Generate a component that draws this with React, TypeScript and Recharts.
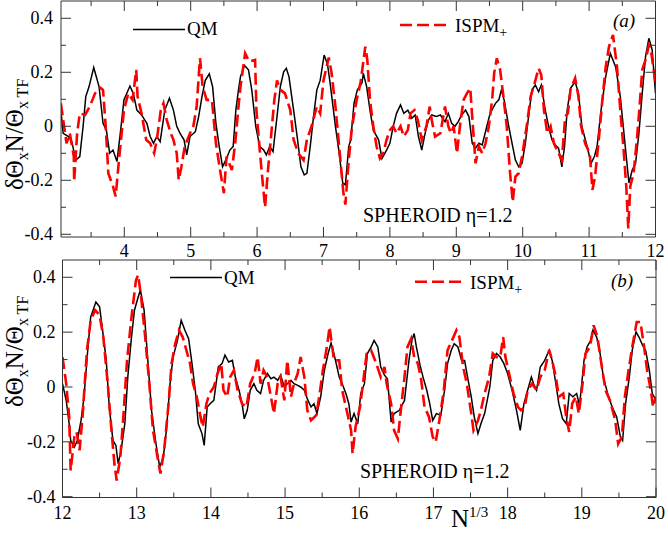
import React from 'react';
import { LineChart, Line, XAxis, YAxis } from 'recharts';

const AXIS = '#333';
const FONT = '"Liberation Serif", "Times New Roman", serif';
const RED = '#ff0000';

type Pt = [number, number];

// tick values
const xTicksA = [3.5, 4, 4.5, 5, 5.5, 6, 6.5, 7, 7.5, 8, 8.5, 9, 9.5, 10, 10.5, 11, 11.5, 12];
const xTicksB = [12, 12.5, 13, 13.5, 14, 14.5, 15, 15.5, 16, 16.5, 17, 17.5, 18, 18.5, 19, 19.5, 20];
const yTicks = [-0.4, -0.3, -0.2, -0.1, 0, 0.1, 0.2, 0.3, 0.4];

// panel (a): QM
const qmA: Pt[] = [
  [3.045, 0.06], [3.08, -0.026], [3.16, -0.038], [3.21, -0.057], [3.27, -0.125], [3.33, -0.112], [3.38, 0], [3.42, 0.11],
  [3.47, 0.147], [3.54, 0.218], [3.62, 0.147], [3.68, 0.011], [3.73, -0.014], [3.78, -0.1], [3.83, -0.088], [3.89, -0.13],
  [3.94, -0.026], [3.995, 0.098], [4.085, 0.149], [4.135, 0.122], [4.19, 0.06], [4.26, 0.042], [4.34, 0.011], [4.39, -0.038],
  [4.44, -0.063], [4.49, -0.038], [4.54, -0.057], [4.61, 0.06], [4.68, 0.104], [4.74, 0.06], [4.79, 0], [4.84, -0.026],
  [4.9, -0.05], [4.94, -0.106], [4.99, -0.038], [5.07, -0.02], [5.12, 0.036], [5.17, 0.11], [5.22, 0.17], [5.28, 0.194],
  [5.33, 0.147], [5.38, 0.011], [5.43, -0.075], [5.48, -0.15], [5.54, -0.119], [5.59, -0.088], [5.64, -0.075], [5.68, 0.06],
  [5.72, 0.135], [5.75, 0.184], [5.81, 0.225], [5.87, 0.209], [5.92, 0.135], [5.98, 0], [6.04, -0.075], [6.1, -0.088],
  [6.14, -0.106], [6.19, -0.075], [6.24, -0.094], [6.3, 0.036], [6.35, 0.147], [6.4, 0.202], [6.44, 0.215], [6.48, 0.184],
  [6.55, 0.06], [6.61, -0.05], [6.66, -0.15], [6.71, -0.18], [6.75, -0.174], [6.8, -0.075], [6.85, 0.036], [6.9, 0.135],
  [6.95, 0.17], [7.01, 0.264], [7.06, 0.23], [7.1, 0.16], [7.18, 0], [7.23, -0.088], [7.29, -0.21], [7.33, -0.217],
  [7.38, -0.075], [7.41, -0.05], [7.46, 0.085], [7.51, 0.135], [7.58, 0.16], [7.6, 0.196], [7.65, 0.147], [7.7, 0.06],
  [7.75, -0.014], [7.83, -0.05], [7.88, -0.119], [7.95, -0.088], [8, -0.063], [8.05, 0], [8.1, 0.048], [8.16, 0.079],
  [8.21, 0.048], [8.27, 0.06], [8.33, 0.03], [8.38, 0.042], [8.43, -0.038], [8.48, -0.088], [8.53, -0.026], [8.58, 0.023],
  [8.63, 0.042], [8.7, 0.036], [8.76, 0.042], [8.83, 0.017], [8.88, 0.048], [8.93, 0.011], [8.98, 0], [9.03, 0.017],
  [9.08, 0.042], [9.14, 0.06], [9.19, 0.036], [9.24, -0.063], [9.29, -0.081], [9.34, -0.063], [9.39, -0.069], [9.46, 0],
  [9.51, 0.048], [9.59, 0.085], [9.64, 0.098], [9.68, 0.135], [9.72, 0.098], [9.79, 0], [9.84, -0.063], [9.89, -0.125],
  [9.94, -0.15], [9.99, -0.137], [10.04, -0.063], [10.1, 0.06], [10.14, 0.135], [10.19, 0.153], [10.24, 0.128], [10.28, 0.153],
  [10.34, 0.06], [10.39, 0], [10.44, -0.05], [10.49, -0.069], [10.54, -0.081], [10.59, -0.15], [10.63, -0.075], [10.67, 0.06],
  [10.72, 0.141], [10.79, 0.165], [10.84, 0.122], [10.89, 0], [10.97, -0.075], [11.03, -0.137], [11.08, -0.112], [11.12, -0.075],
  [11.18, 0.06], [11.25, 0.184], [11.32, 0.27], [11.4, 0.22], [11.47, 0.11], [11.55, -0.088], [11.6, -0.21], [11.65, -0.162],
  [11.7, -0.137], [11.75, -0.026], [11.8, 0.122], [11.85, 0.258], [11.9, 0.326], [11.95, 0.283], [12, 0.122],
];

// panel (a): ISPM+
const ispmA: Pt[] = [
  [3.045, 0.085], [3.13, -0.063], [3.18, -0.026], [3.24, -0.112], [3.245, -0.205], [3.29, -0.026], [3.33, 0.048], [3.41, 0.042],
  [3.48, 0.073], [3.56, 0.122], [3.63, 0.144], [3.68, 0.135], [3.72, 0], [3.76, -0.174], [3.83, -0.223], [3.87, -0.26],
  [3.92, -0.125], [3.96, -0.026], [3.995, 0.06], [4.06, 0.122], [4.125, 0.098], [4.18, 0.209], [4.2, 0.11], [4.26, 0.048],
  [4.33, -0.05], [4.39, -0.063], [4.45, -0.1], [4.49, -0.05], [4.55, 0.06], [4.59, 0.085], [4.64, 0.023], [4.7, -0.026],
  [4.74, -0.05], [4.79, -0.1], [4.82, -0.199], [4.86, -0.15], [4.91, -0.075], [4.99, -0.026], [5.04, 0], [5.09, 0.073],
  [5.14, 0.252], [5.18, 0.147], [5.24, 0.098], [5.32, 0.098], [5.38, -0.063], [5.45, -0.174], [5.5, -0.248], [5.54, -0.112],
  [5.62, -0.162], [5.67, -0.063], [5.72, 0.073], [5.75, 0.147], [5.82, 0.27], [5.88, 0.24], [5.97, 0.246], [5.99, 0.06],
  [6.04, -0.088], [6.09, -0.223], [6.12, -0.3], [6.16, -0.174], [6.21, -0.038], [6.26, 0.098], [6.3, 0.17], [6.35, 0.135],
  [6.42, 0.122], [6.5, 0.06], [6.55, -0.05], [6.62, -0.1], [6.7, -0.125], [6.75, -0.05], [6.82, 0], [6.9, 0.073],
  [6.95, 0.048], [7, 0.17], [7.08, 0.255], [7.12, 0.2], [7.18, 0.073], [7.25, -0.112], [7.3, -0.248], [7.33, -0.29],
  [7.38, -0.125], [7.43, 0], [7.5, 0.098], [7.56, 0.165], [7.63, 0.295], [7.66, 0.246], [7.7, 0.098], [7.75, 0],
  [7.8, -0.075], [7.85, -0.119], [7.9, -0.1], [7.95, -0.05], [8, -0.014], [8.05, 0], [8.1, -0.026], [8.16, 0],
  [8.21, -0.038], [8.27, -0.014], [8.31, 0.048], [8.37, 0.06], [8.42, 0.023], [8.48, -0.05], [8.55, 0], [8.6, 0.073],
  [8.63, 0.023], [8.68, -0.038], [8.76, -0.026], [8.83, 0.073], [8.88, 0], [8.92, -0.026], [8.96, 0], [9.01, -0.1],
  [9.06, 0.011], [9.11, 0.098], [9.16, 0.122], [9.21, 0.141], [9.25, 0], [9.29, -0.137], [9.34, -0.075], [9.39, -0.1],
  [9.44, -0.063], [9.49, 0], [9.54, 0.098], [9.57, 0.196], [9.61, 0.252], [9.66, 0.209], [9.71, 0.11], [9.76, 0],
  [9.81, -0.174], [9.85, -0.28], [9.89, -0.186], [9.94, -0.174], [9.99, -0.112], [10.06, 0], [10.12, 0.11], [10.18, 0.16],
  [10.24, 0.215], [10.28, 0.19], [10.32, 0.06], [10.37, -0.026], [10.42, 0], [10.47, -0.063], [10.54, -0.1], [10.59, -0.125],
  [10.64, 0.036], [10.68, 0.048], [10.72, 0.135], [10.79, 0.178], [10.84, 0.11], [10.88, 0], [10.94, -0.063], [11.01, -0.1],
  [11.05, -0.236], [11.09, -0.186], [11.15, -0.038], [11.2, 0.098], [11.25, 0.22], [11.3, 0.295], [11.36, 0.338], [11.42, 0.22],
  [11.47, 0.06], [11.52, -0.088], [11.56, -0.223], [11.59, -0.378], [11.62, -0.223], [11.67, -0.174], [11.72, -0.05], [11.76, 0.073],
  [11.8, 0.209], [11.85, 0.246], [11.9, 0.3], [11.93, 0.283], [12, 0.16],
];

// panel (b): QM
const qmB: Pt[] = [
  [12, 0.012], [12.05, -0.049], [12.09, -0.134], [12.11, -0.195], [12.16, -0.219], [12.2, -0.195], [12.25, -0.122], [12.29, -0.036],
  [12.34, 0.134], [12.38, 0.255], [12.45, 0.31], [12.5, 0.292], [12.54, 0.207], [12.59, 0.097], [12.63, -0.073], [12.68, -0.195],
  [12.72, -0.213], [12.75, -0.28], [12.79, -0.231], [12.84, -0.134], [12.88, 0.036], [12.93, 0.182], [12.97, 0.28], [13.02, 0.328],
  [13.05, 0.353], [13.1, 0.28], [13.15, 0.097], [13.2, -0.085], [13.26, -0.207], [13.31, -0.292], [13.36, -0.255], [13.4, -0.158],
  [13.45, 0.012], [13.49, 0.109], [13.55, 0.17], [13.6, 0.243], [13.65, 0.207], [13.7, 0.176], [13.74, 0.097], [13.79, -0.012],
  [13.83, -0.134], [13.88, -0.17], [13.91, -0.213], [13.95, -0.073], [13.99, -0.061], [14.04, -0.049], [14.1, 0.073], [14.15, 0.085],
  [14.19, 0.116], [14.24, 0.091], [14.29, 0.097], [14.33, 0.036], [14.38, -0.012], [14.42, -0.061], [14.45, -0.116], [14.49, -0.085],
  [14.53, -0.012], [14.58, 0.012], [14.62, -0.012], [14.67, -0.024], [14.71, 0.024], [14.76, 0.049], [14.81, 0.03], [14.85, 0.036],
  [14.9, 0.024], [14.94, 0.043], [14.99, 0], [15.03, 0.012], [15.08, 0.024], [15.12, 0.012], [15.17, 0.006], [15.21, 0],
  [15.26, -0.012], [15.3, -0.043], [15.35, -0.073], [15.39, -0.061], [15.43, -0.097], [15.48, -0.036], [15.53, 0.061], [15.58, 0.122],
  [15.62, 0.16], [15.66, 0.12], [15.7, 0.073], [15.73, 0.036], [15.77, 0.012], [15.82, -0.024], [15.86, -0.061], [15.89, -0.128],
  [15.93, -0.097], [15.98, -0.134], [16.02, -0.024], [16.07, 0.012], [16.11, 0.122], [16.16, 0.146], [16.2, 0.17], [16.25, 0.146],
  [16.29, 0.073], [16.34, 0.043], [16.38, 0.03], [16.43, -0.128], [16.47, -0.097], [16.54, -0.085], [16.61, -0.049], [16.67, 0.097],
  [16.71, 0.17], [16.74, 0.195], [16.77, 0.146], [16.82, 0.079], [16.86, 0.036], [16.91, -0.012], [16.95, -0.061], [16.99, -0.122],
  [17.04, -0.097], [17.1, -0.103], [17.15, -0.012], [17.19, 0.085], [17.24, 0.134], [17.28, 0.158], [17.33, 0.146], [17.38, 0.097],
  [17.42, 0.097], [17.46, 0.036], [17.51, -0.036], [17.55, -0.109], [17.6, -0.17], [17.64, -0.134], [17.69, -0.097], [17.76, 0],
  [17.8, 0.097], [17.85, 0.122], [17.9, 0.109], [17.95, 0.085], [18, 0.049], [18.06, -0.012], [18.12, -0.085], [18.17, -0.158],
  [18.22, -0.061], [18.27, -0.012], [18.32, 0.036], [18.35, 0.012], [18.39, -0.012], [18.44, 0.073], [18.5, 0.097], [18.56, 0.134],
  [18.6, 0.097], [18.65, 0.012], [18.69, -0.061], [18.74, -0.116], [18.79, -0.134], [18.83, -0.024], [18.88, -0.036], [18.93, -0.024],
  [18.97, -0.067], [19.03, 0.097], [19.07, 0.146], [19.12, 0.17], [19.15, 0.207], [19.2, 0.182], [19.24, 0.134], [19.29, 0.036],
  [19.36, -0.036], [19.41, -0.073], [19.47, -0.109], [19.52, -0.182], [19.55, -0.195], [19.59, -0.061], [19.64, 0.036], [19.68, 0.134],
  [19.73, 0.201], [19.77, 0.182], [19.82, 0.152], [19.86, 0.134], [19.91, 0.061], [19.95, -0.024], [20, -0.049],
];

// panel (b): ISPM+
const ispmB: Pt[] = [
  [12, 0.109], [12.05, 0.012], [12.09, -0.109], [12.11, -0.304], [12.16, -0.182], [12.19, -0.164], [12.23, -0.231], [12.27, -0.109],
  [12.33, 0.134], [12.38, 0.243], [12.44, 0.28], [12.5, 0.262], [12.55, 0.182], [12.61, 0.012], [12.66, -0.158], [12.7, -0.28],
  [12.73, -0.341], [12.78, -0.255], [12.82, -0.109], [12.87, 0.097], [12.93, 0.255], [12.99, 0.389], [13.02, 0.408], [13.06, 0.328],
  [13.11, 0.195], [13.17, 0.012], [13.22, -0.158], [13.28, -0.255], [13.32, -0.316], [13.37, -0.231], [13.43, -0.061], [13.47, 0.085],
  [13.52, 0.158], [13.57, 0.207], [13.62, 0.182], [13.67, 0.134], [13.72, 0.085], [13.76, 0.012], [13.81, -0.036], [13.86, -0.109],
  [13.89, -0.146], [13.94, -0.061], [13.98, -0.024], [14.04, 0], [14.09, 0.049], [14.14, 0.085], [14.17, -0.012], [14.22, -0.036],
  [14.26, 0.036], [14.31, 0.061], [14.36, -0.012], [14.42, -0.061], [14.48, -0.073], [14.53, 0.012], [14.59, 0.049], [14.63, 0.109],
  [14.67, 0.012], [14.71, 0.061], [14.76, 0.036], [14.81, -0.036], [14.85, -0.097], [14.9, 0.012], [14.94, 0.036], [14.99, -0.049],
  [15.03, 0.097], [15.08, -0.036], [15.12, 0.012], [15.17, 0.049], [15.21, 0.109], [15.26, 0.036], [15.3, -0.085], [15.35, -0.122],
  [15.42, -0.103], [15.46, -0.036], [15.51, 0.061], [15.57, 0.158], [15.6, 0.219], [15.66, 0.097], [15.73, 0.097], [15.77, -0.012],
  [15.84, -0.097], [15.89, -0.158], [15.91, -0.243], [15.95, -0.146], [16.01, -0.073], [16.05, 0.012], [16.1, 0.122], [16.16, 0.134],
  [16.23, 0.085], [16.29, 0.036], [16.34, 0.073], [16.37, 0.012], [16.43, -0.061], [16.47, -0.158], [16.52, -0.189], [16.56, -0.085],
  [16.61, 0.036], [16.65, 0.146], [16.7, 0.176], [16.74, 0.109], [16.79, 0.085], [16.83, 0.036], [16.88, -0.073], [16.94, -0.109],
  [16.99, -0.182], [17.03, -0.201], [17.08, -0.122], [17.14, -0.012], [17.19, 0.134], [17.25, 0.17], [17.31, 0.207], [17.35, 0.182],
  [17.4, 0.073], [17.45, 0.012], [17.51, -0.097], [17.54, -0.158], [17.6, -0.122], [17.64, -0.085], [17.69, -0.024], [17.75, 0.036],
  [17.8, 0.122], [17.85, 0.109], [17.9, 0.109], [17.94, 0.182], [17.97, 0.109], [18.03, 0.036], [18.08, -0.024], [18.14, -0.073],
  [18.18, -0.085], [18.23, -0.073], [18.27, -0.012], [18.33, 0.012], [18.39, -0.012], [18.44, 0.036], [18.5, 0.061], [18.56, 0.134],
  [18.6, 0.097], [18.65, 0.036], [18.69, -0.036], [18.75, -0.024], [18.79, -0.109], [18.83, -0.164], [18.87, -0.061], [18.92, -0.036],
  [18.96, -0.097], [19.01, 0.012], [19.05, 0.122], [19.11, 0.146], [19.16, 0.225], [19.21, 0.182], [19.27, 0.073], [19.32, -0.012],
  [19.38, -0.049], [19.45, -0.122], [19.49, -0.207], [19.54, -0.182], [19.58, -0.036], [19.63, 0.061], [19.68, 0.146], [19.74, 0.237],
  [19.79, 0.237], [19.84, 0.146], [19.88, 0.061], [19.93, -0.012], [19.96, -0.073], [20, -0.036],
];

const toRows = (pts: Pt[]) => pts.map(([x, y]) => ({ x, y }));
const isInt = (v: number) => Math.abs(v - Math.round(v)) < 1e-6;
const isMajorY = (v: number) => Math.abs(Math.round(v * 10)) % 2 === 0;
const fmtY = (v: number) => (Math.abs(v) < 1e-9 ? '0' : v.toFixed(1));

// inward ticks on all four sides, labels only bottom/left
function BottomTick({ x, y, payload, labelDy }: any) {
  const major = isInt(payload.value);
  return (
    <g>
      <line x1={x} y1={y} x2={x} y2={y - (major ? 10 : 5)} stroke={AXIS} />
      {major && (
        <text x={x} y={y + labelDy} textAnchor="middle" fontSize={18} fontFamily={FONT} fill="#000">
          {payload.value}
        </text>
      )}
    </g>
  );
}

function TopTick({ x, y, payload }: any) {
  const major = isInt(payload.value);
  return <line x1={x} y1={y} x2={x} y2={y + (major ? 10 : 5)} stroke={AXIS} />;
}

function LeftTick({ x, y, payload, labelDx }: any) {
  const major = isMajorY(payload.value);
  return (
    <g>
      <line x1={x} y1={y} x2={x + (major ? 10 : 5)} y2={y} stroke={AXIS} />
      {major && (
        <text x={x - labelDx} y={y + 6} textAnchor="end" fontSize={18} fontFamily={FONT} fill="#000">
          {fmtY(payload.value)}
        </text>
      )}
    </g>
  );
}

function RightTick({ x, y, payload }: any) {
  const major = isMajorY(payload.value);
  return <line x1={x} y1={y} x2={x - (major ? 10 : 5)} y2={y} stroke={AXIS} />;
}

function Panel({ top, height, qm, ispm, xDomain, xTicks, yDomain, marginTop, leftW, rightM, bottomH, labelDy, labelDx }: any) {
  return (
    <div style={{ position: 'absolute', left: 0, top, width: 668, height }}>
      <LineChart width={668} height={height} margin={{ top: marginTop, right: rightM, bottom: 0, left: 0 }}>
        <XAxis xAxisId="b" type="number" dataKey="x" domain={xDomain} ticks={xTicks} interval={0} allowDataOverflow
          height={bottomH} tickSize={0} tickMargin={0} tickLine={false} axisLine={{ stroke: AXIS }}
          tick={<BottomTick labelDy={labelDy} />} />
        <XAxis xAxisId="t" orientation="top" type="number" dataKey="x" domain={xDomain} ticks={xTicks} interval={0} allowDataOverflow
          height={1} tickSize={0} tickMargin={0} tickLine={false} axisLine={{ stroke: AXIS }} tick={<TopTick />} />
        <YAxis yAxisId="l" type="number" domain={yDomain} ticks={yTicks} interval={0} allowDataOverflow
          width={leftW} tickSize={0} tickMargin={0} tickLine={false} axisLine={{ stroke: AXIS }}
          tick={<LeftTick labelDx={labelDx} />} />
        <YAxis yAxisId="r" orientation="right" type="number" domain={yDomain} ticks={yTicks} interval={0} allowDataOverflow
          width={1} tickSize={0} tickMargin={0} tickLine={false} axisLine={{ stroke: AXIS }} tick={<RightTick />} />
        <Line xAxisId="b" yAxisId="l" data={toRows(qm)} dataKey="y" type="linear" stroke="#000" strokeWidth={1.5}
          dot={false} isAnimationActive={false} />
        <Line xAxisId="b" yAxisId="l" data={toRows(ispm)} dataKey="y" type="linear" stroke={RED} strokeWidth={2.6}
          strokeDasharray="12 5" dot={false} isAnimationActive={false} />
      </LineChart>
    </div>
  );
}

function YLabel({ x, y }: { x: number; y: number }) {
  return (
    <text transform={`translate(${x},${y}) rotate(-90)`} fontSize={25} fontFamily={FONT} fill="#000">
      δΘ<tspan fontSize={16} dy={5}>x</tspan>
      <tspan dy={-5}>N/Θ</tspan>
      <tspan fontSize={16} dy={5}>x TF</tspan>
    </text>
  );
}

function Legend({ qmX, qmY, qmTextY, ispmX, ispmY, ispmTextY, tag, tagX, tagY, sphX, sphY }: any) {
  return (
    <g fontFamily={FONT} fill="#000">
      <line x1={qmX} y1={qmY} x2={qmX + 52} y2={qmY} stroke="#000" strokeWidth={1.5} />
      <text x={qmX + 54} y={qmTextY} fontSize={19}>QM</text>
      <line x1={ispmX} y1={ispmY} x2={ispmX + 47} y2={ispmY} stroke={RED} strokeWidth={2.6} strokeDasharray="12 5" />
      <text x={ispmX + 55} y={ispmTextY} fontSize={19}>
        ISPM<tspan fontSize={14} dy={5}>+</tspan>
      </text>
      <text x={tagX} y={tagY} fontSize={19} fontStyle="italic">{tag}</text>
      <text x={sphX} y={sphY} fontSize={20}>SPHEROID η=1.2</text>
    </g>
  );
}

export default function App() {
  return (
    <div style={{ position: 'absolute', left: 0, top: 0, width: 668, height: 533, background: '#fff', overflow: 'hidden' }}>
      <Panel top={0} height={262} qm={qmA} ispm={ispmA} xDomain={[3.047, 12]} xTicks={xTicksA} yDomain={[-0.41, 0.464]}
        marginTop={0} leftW={61} rightM={11.5} bottomH={25} labelDy={20} labelDx={8} />
      <Panel top={258} height={273.5} qm={qmB} ispm={ispmB} xDomain={[12, 20]} xTicks={xTicksB} yDomain={[-0.403, 0.463]}
        marginTop={1} leftW={62.5} rightM={11} bottomH={34} labelDy={21} labelDx={7} />
      <svg width={668} height={533} style={{ position: 'absolute', left: 0, top: 0, pointerEvents: 'none' }}>
        <YLabel x={23} y={190} />
        <YLabel x={23} y={407} />
        <Legend qmX={133} qmY={29.5} qmTextY={35} ispmX={400} ispmY={25} ispmTextY={32}
          tag="(a)" tagX={613} tagY={27} sphX={363} sphY={222} />
        <Legend qmX={170} qmY={277.5} qmTextY={284} ispmX={415} ispmY={281.7} ispmTextY={288.5}
          tag="(b)" tagX={611} tagY={286.5} sphX={360} sphY={477.7} />
        <text x={451} y={527} fontSize={25} fontFamily={FONT} fill="#000">
          N<tspan fontSize={15} dy={-10}>1/3</tspan>
        </text>
      </svg>
    </div>
  );
}
